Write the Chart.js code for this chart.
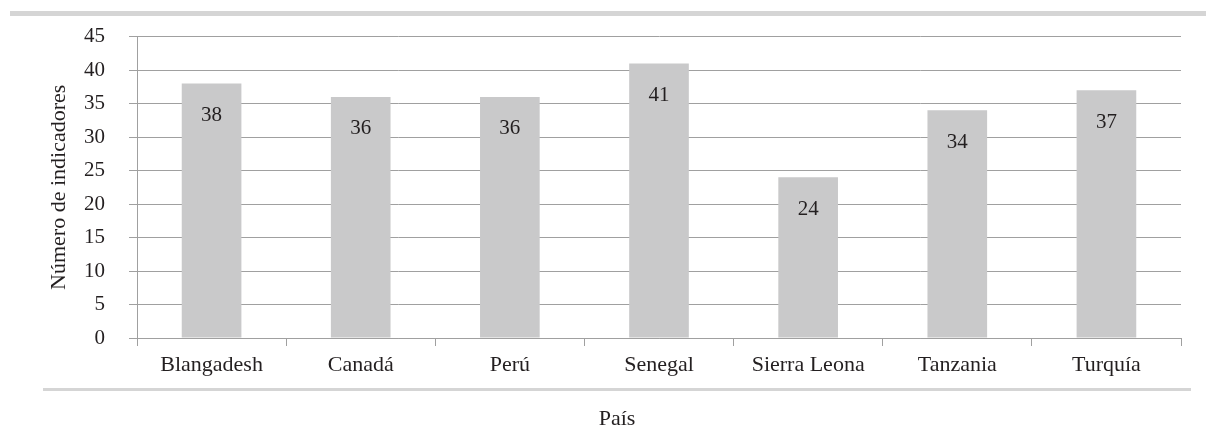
<!DOCTYPE html>
<html>
<head>
<meta charset="utf-8">
<title>Número de indicadores por país</title>
<script src="https://cdn.jsdelivr.net/npm/chart.js@4.4.0/dist/chart.umd.min.js"></script>
<style>
    body { margin: 0; background: #fff; }
    #wrap { width: 1206px; height: 432px; }
</style>
</head>
<body>
<div id="wrap"><canvas id="chart" width="1206" height="432"></canvas></div>
<script>
// datos del gráfico
var paises = ['Blangadesh', 'Canadá', 'Perú', 'Senegal', 'Sierra Leona', 'Tanzania', 'Turquía'];
var indicadores = [38, 36, 36, 41, 24, 34, 37];
var escalaY = { min: 0, max: 45, paso: 5 };
var tituloY = 'Número de indicadores';
var tituloX = 'País';

var colorTexto = '#231f20';
var colorBarra = '#c9c9ca';
var colorRejilla = '#a0a0a0';
var colorRaya = '#d5d5d5';

Chart.defaults.font.family = '"Liberation Serif", "Times New Roman", serif';
Chart.defaults.color = colorTexto;

// rayas grises, etiquetas de valor y título del eje X
var decoracion = {
    id: 'decoracion',
    beforeDraw: function(chart) {
        var ctx = chart.ctx;
        var area = chart.chartArea;
        ctx.save();
        ctx.fillStyle = colorRaya;
        ctx.fillRect(10, 11, chart.width - 10, 5);
        ctx.fillRect(43, 388, area.right + 10 - 43, 3);
        ctx.restore();
    },
    afterDatasetsDraw: function(chart) {
        var ctx = chart.ctx;
        var meta = chart.getDatasetMeta(0);
        ctx.save();
        ctx.font = '21px "Liberation Serif", serif';
        ctx.fillStyle = colorTexto;
        ctx.textAlign = 'center';
        ctx.textBaseline = 'middle';
        meta.data.forEach(function(bar, i) {
            ctx.fillText(String(indicadores[i]), bar.x, bar.y + 32);
        });
        ctx.restore();
    },
    afterDraw: function(chart) {
        var ctx = chart.ctx;
        ctx.save();
        ctx.font = '22px "Liberation Serif", serif';
        ctx.fillStyle = colorTexto;
        ctx.textAlign = 'center';
        ctx.textBaseline = 'alphabetic';
        ctx.fillText(tituloX, 617, 425);
        ctx.restore();
    }
};

var ctx = document.getElementById('chart').getContext('2d');
window.chart = new Chart(ctx, {
    type: 'bar',
    data: {
        labels: paises,
        datasets: [{
            label: tituloY,
            data: indicadores,
            backgroundColor: colorBarra,
            borderWidth: 0,
            categoryPercentage: 1,
            barPercentage: 0.4
        }]
    },
    options: {
        responsive: false,
        animation: false,
        devicePixelRatio: 1,
        layout: { padding: { left: 0, right: 25, top: 32, bottom: 0 } },
        plugins: {
            legend: { display: false },
            tooltip: { enabled: false }
        },
        scales: {
            x: {
                grid: {
                    offset: true,
                    drawOnChartArea: false,
                    drawTicks: true,
                    tickLength: 8,
                    color: colorRejilla
                },
                border: { display: true, color: colorRejilla, width: 1 },
                ticks: {
                    padding: 6,
                    font: { size: 22 },
                    color: colorTexto,
                    maxRotation: 0
                },
                afterFit: function(scale) { scale.height = 94; }
            },
            y: {
                min: escalaY.min,
                max: escalaY.max,
                grid: {
                    color: colorRejilla,
                    lineWidth: 1,
                    tickLength: 8
                },
                border: { display: true, color: colorRejilla, width: 1 },
                ticks: {
                    stepSize: escalaY.paso,
                    padding: 24,
                    font: { size: 21 },
                    color: colorTexto
                },
                title: {
                    display: true,
                    text: tituloY,
                    font: { size: 22 },
                    color: colorTexto,
                    padding: { top: 46, bottom: 0 }
                },
                afterFit: function(scale) { scale.width = 137; }
            }
        }
    },
    plugins: [decoracion]
});
</script>
</body>
</html>
